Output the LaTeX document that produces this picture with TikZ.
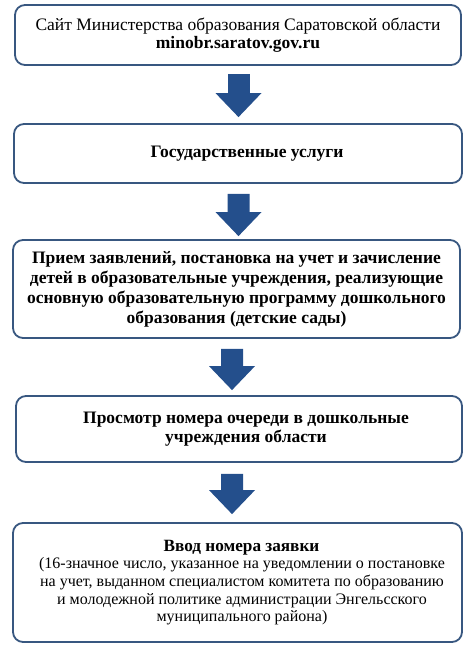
\documentclass[tikz,border=0pt]{standalone}
\usepackage{fontspec}
\setmainfont{Liberation Serif}
\usepackage{tikz}
\usetikzlibrary{arrows.meta}
\definecolor{framecol}{RGB}{56,87,128}
\definecolor{arrowcol}{RGB}{36,79,140}
\tikzset{
  stage/.style={draw=framecol,line width=1.8bp,rounded corners=10bp,align=center,inner sep=0pt,font=\fontsize{17.5bp}{18.5bp}\selectfont},
  boldstage/.style={stage,font=\fontsize{17.5bp}{20bp}\selectfont\bfseries},
  downarrow/.style={arrowcol,line width=22bp,-{Triangle[width=46bp,length=24bp,line width=0pt]}}
}

\begin{document}
\begin{tikzpicture}
\useasboundingbox (0,0) rectangle (473bp,-650bp);
\node (site) at (238bp,-35bp)[stage,minimum width=446bp,minimum height=60bp] {Сайт Министерства образования Саратовской области\\ \textbf{minobr.saratov.gov.ru}};
\node (gosusl) at (238bp,-153.5bp)[boldstage,minimum width=448bp,minimum height=59bp] {\hspace*{18bp}Государственные услуги};
\node (priem) at (236.5bp,-289bp)[boldstage,minimum width=447bp,minimum height=98bp] {Прием заявлений, постановка на учет и зачисление\\ детей в образовательные учреждения, реализующие\\ основную образовательную программу дошкольного\\ образования (детские сады)};
\node (ochered) at (239bp,-429bp)[boldstage,minimum width=446bp,minimum height=66bp,font=\fontsize{17.5bp}{19bp}\selectfont\bfseries] {\hspace*{14bp}Просмотр номера очереди в дошкольные\\ \hspace*{14bp}учреждения области};
\node (zayavka) at (237.5bp,-582.5bp)[stage,minimum width=449bp,minimum height=119bp,font=\fontsize{16bp}{17.7bp}\selectfont] {\hspace*{8bp}{\fontsize{17.2bp}{17.7bp}\selectfont\bfseries Ввод номера заявки}\\ \hspace*{9bp}(16-значное число, указанное на уведомлении о постановке\\ \hspace*{9bp}на учет, выданном специалистом комитета по образованию\\ \hspace*{9bp}и молодежной политике администрации Энгельсского\\ \hspace*{9bp}муниципального района)};
\draw [downarrow,shorten <=8bp,shorten >=6bp] ([xshift=0.5bp]site.south) -- ([xshift=0.5bp]gosusl.north);
\draw [downarrow,shorten <=10bp,shorten >=3bp] ([xshift=0.5bp]gosusl.south) -- ([xshift=2bp]priem.north);
\draw [downarrow,shorten <=10bp,shorten >=5bp] ([xshift=-4.5bp]priem.south) -- ([xshift=-7bp]ochered.north);
\draw [downarrow,shorten <=11bp,shorten >=8bp] ([xshift=-7bp]ochered.south) -- ([xshift=-5.5bp]zayavka.north);
\end{tikzpicture}
\end{document}
